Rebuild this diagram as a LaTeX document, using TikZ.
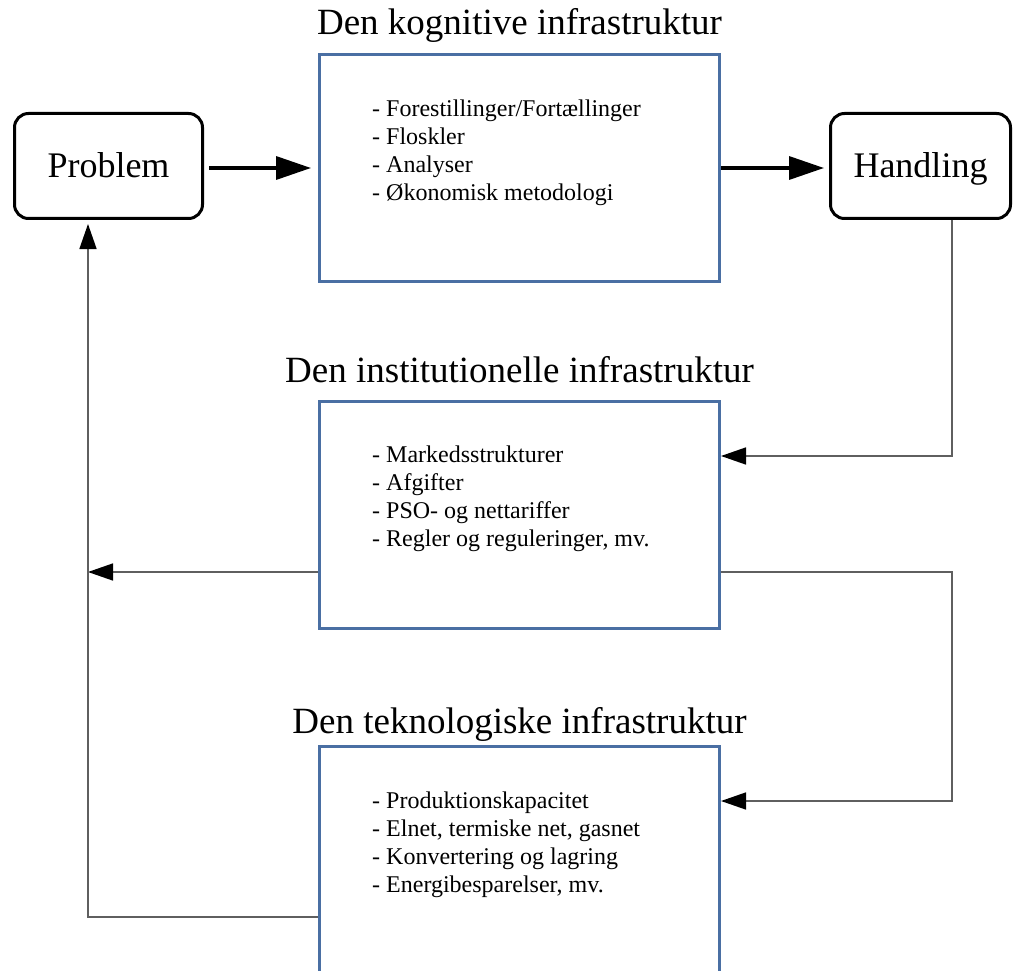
\documentclass[tikz,border=0pt]{standalone}
\usepackage{fontspec}
\setmainfont{Liberation Serif}
\usetikzlibrary{arrows.meta, positioning}
\definecolor{boxblue}{RGB}{74,111,163}
\definecolor{linegray}{RGB}{95,95,95}
\tikzset{
  infra/.style = {rectangle, draw=boxblue, line width=3pt, minimum width=400pt, minimum height=227pt, inner sep=0pt},
  endbox/.style = {rectangle, rounded corners=14pt, draw=black, line width=3pt, minimum height=105pt, text height=25pt, text depth=2pt, font=\fontsize{36}{40}\selectfont},
  heading/.style = {font=\fontsize{37}{40}\selectfont, inner sep=0pt, anchor=base},
  items/.style = {align=left, font=\rmfamily\fontsize{24}{28}\selectfont, inner sep=0pt, anchor=north west},
  bigarrow/.style = {line width=3.5pt, -{Triangle[length=35pt,width=23pt]}},
  thinline/.style = {draw=linegray, line width=1.5pt},
  thinarrow/.style = {thinline, -{Triangle[length=25pt,width=17pt,color=black]}}
}
\begin{document}
\begin{tikzpicture}[x=1pt, y=-1pt]
  \useasboundingbox (0,0) rectangle (1013,971);
  \clip (0,0) rectangle (1013,971);

  % the three infrastructures
  \node (kog) [infra] at (519.5,168) {};
  \node (inst) [infra] at (519.5,514.5) {};
  \node (tech) [infra] at (519.5,860) {};

  \node (kogtitle) [heading] at ([yshift=18pt]kog.north) {Den kognitive infrastruktur};
  \node (insttitle) [heading] at ([yshift=17pt]inst.north) {Den institutionelle infrastruktur};
  \node (techtitle) [heading] at ([yshift=12pt]tech.north) {Den teknologiske infrastruktur};

  \node (kogitems) [items] at ([xshift=54pt, yshift=-47pt]kog.north west)
    {- Forestillinger/Fortællinger\\- Floskler\\- Analyser\\- Økonomisk metodologi};
  \node (institems) [items] at ([xshift=54pt, yshift=-46pt]inst.north west)
    {- Markedsstrukturer\\- Afgifter\\- PSO- og nettariffer\\- Regler og reguleringer, mv.};
  \node (techitems) [items] at ([xshift=54pt, yshift=-47pt]tech.north west)
    {- Produktionskapacitet\\- Elnet, termiske net, gasnet\\- Konvertering og lagring\\- Energibesparelser, mv.};

  % start and end
  \node (problem) [endbox, minimum width=188pt] at (108.5,166) {Problem};
  \node (handling) [endbox, minimum width=180pt] at (920.5,166) {Handling};

  \coordinate (rin) at (952,456);
  \coordinate (rout) at (952,572);
  \coordinate (tin) at (952,801);
  \coordinate (lout) at (88,572);
  \coordinate (lret) at (88,917);

  \draw [bigarrow, shorten <=5pt, shorten >=7pt] (problem.east |- 0,168) -- (kog.west |- 0,168);
  \draw [bigarrow, shorten >=5pt] (kog.east |- 0,168) -- (handling.west |- 0,168);

  \draw [thinarrow] (handling.south -| rin) -- (rin) -- (inst.east |- rin);
  \draw [thinarrow] (inst.east |- rout) -- (rout) -- (tin) -- (tech.east |- tin);
  \draw [thinarrow] (inst.west |- lout) -- (lout);
  \draw [thinarrow, shorten >=4pt] (tech.west |- lret) -- (lret) -- (problem.south -| lret);
\end{tikzpicture}
\end{document}
